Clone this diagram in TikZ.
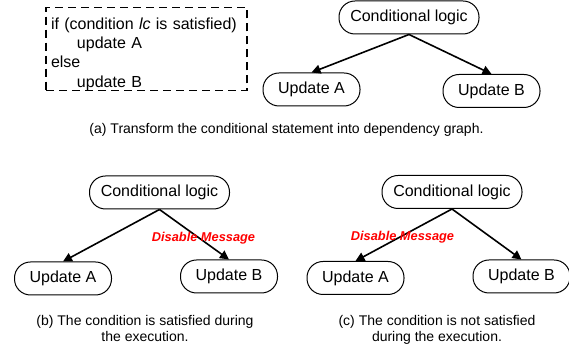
\documentclass[tikz,border=0pt]{standalone}
\usepackage{fontspec}
\setmainfont{Liberation Sans}
\usetikzlibrary{arrows.meta,positioning}
\begin{document}
\begin{tikzpicture}[x=0.5pt, y=-0.5pt,
	logic/.style={draw, line width=0.5pt, rounded corners=8pt, minimum height=16.5pt, minimum width=48.5pt, inner sep=0pt, font=\fontsize{8}{9.6}\selectfont},
	edge/.style={line width=0.8pt, -{Triangle[length=4.5pt,width=4.5pt]}},
	caption/.style={font=\fontsize{7}{8}\selectfont, align=center},
	disable/.style={text=red, font=\fontsize{6.4}{7.5}\selectfont\bfseries\itshape}]

	\useasboundingbox (0,0) rectangle (569,351);

	% (a)
	\node (code) at (146.5,49) [draw, line width=0.9pt, dash pattern=on 4pt off 2.5pt, minimum width=100.5pt, minimum height=41pt, inner xsep=2.5pt, inner ysep=0pt, text width=95.5pt, align=left, font=\fontsize{8}{9.6}\selectfont] {\rule{0pt}{11pt}if (condition \textit{lc} is satisfied)\\ \hspace*{13pt}update A\\ else\\ \hspace*{13pt}update B};
	\node (C1) at (409,17.5) [logic, minimum width=70pt] {Conditional logic};
	\node (A1) at (311.5,89.5) [logic] {Update A};
	\node (B1) at (491.5,91) [logic] {Update B};
	\draw[edge] (C1.south) -- (A1.north);
	\draw[edge] (C1.south) -- (B1.north);
	\node (capA) at (286.5,130) [caption] {(a) Transform the conditional statement into dependency graph.};

	% (b)
	\node (C2) at (159.5,192.5) [logic, minimum width=70pt] {Conditional logic};
	\node (A2) at (63,278.5) [logic] {Update A};
	\node (B2) at (229,276.5) [logic] {Update B};
	\draw[edge] (C2.south) -- (A2.north);
	\draw[edge] (C2.south) -- (B2.north);
	\node (msgB) at (203.5,238) [disable] {Disable Message};
	\node (capB) at (145,329) [caption] {(b) The condition is satisfied during\\ the execution.};

	% (c)
	\node (C3) at (452,192) [logic, minimum width=70pt] {Conditional logic};
	\node (A3) at (355.5,278) [logic] {Update A};
	\node (B3) at (521.5,276.5) [logic] {Update B};
	\draw[edge] (C3.south) -- (A3.north);
	\draw[edge] (C3.south) -- (B3.north);
	\node (msgC) at (402.5,237) [disable] {Disable Message};
	\node (capC) at (437,330) [caption] {(c) The condition is not satisfied\\ during the execution.};

\end{tikzpicture}
\end{document}
